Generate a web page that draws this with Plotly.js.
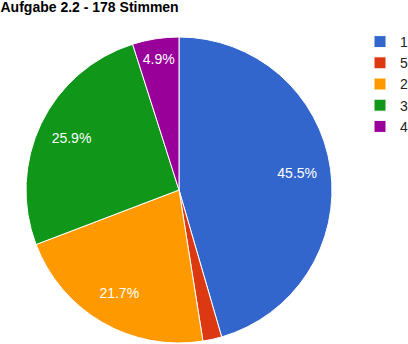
<!DOCTYPE html>
<html>
<head>
<meta charset="utf-8">
<script src="https://cdn.plot.ly/plotly-3.0.1.min.js"></script>
<style>html,body{margin:0;padding:0;background:#fff;}#chart{width:408px;height:344px;}</style>
</head>
<body>
<div id="chart"></div>
<script>
var labels = ['1', '5', '2', '3', '4'];
var values = [45.5, 2.0, 21.7, 25.9, 4.9];
var colors = ['#3366cc', '#dc3912', '#ff9900', '#109618', '#990099'];
var textPositions = ['inside', 'none', 'inside', 'inside', 'inside'];

var W = 408, H = 344;
var pieDomain = {x: [26 / W, 332 / W], y: [1 - 343 / H, 1 - 37 / H]};
var FONT = 'Arial, Liberation Sans, sans-serif';

var slices = {
  type: 'pie',
  labels: labels,
  values: values,
  sort: false,
  direction: 'clockwise',
  rotation: 0,
  marker: {colors: colors, line: {color: '#ffffff', width: 1}},
  textinfo: 'none',
  hoverinfo: 'label+percent',
  domain: pieDomain
};

// transparent ring used only to place the percentage labels further out
var labelRing = {
  type: 'pie',
  labels: labels,
  values: values,
  sort: false,
  direction: 'clockwise',
  rotation: 0,
  hole: 0.56,
  showlegend: false,
  marker: {colors: labels.map(function () { return 'rgba(0,0,0,0)'; }), line: {width: 0}},
  textinfo: 'percent',
  texttemplate: '%{percent:.1%}',
  textposition: textPositions,
  insidetextorientation: 'horizontal',
  textfont: {family: FONT, size: 14, color: '#ffffff'},
  hoverinfo: 'skip',
  domain: pieDomain
};

var layout = {
  width: W,
  height: H,
  margin: {l: 0, r: 0, t: 0, b: 0, autoexpand: false},
  paper_bgcolor: '#ffffff',
  showlegend: true,
  title: {
    text: '<b>Aufgabe 2.2 - 178 Stimmen</b>',
    font: {family: FONT, size: 14, color: '#000000'},
    x: 0.5 / W, xref: 'container', xanchor: 'left',
    y: 1 - 7 / H, yref: 'container', yanchor: 'middle'
  },
  legend: {
    x: 360 / W, xanchor: 'left',
    y: 1 - 26 / H, yanchor: 'top',
    font: {family: FONT, size: 14, color: '#222222'},
    traceorder: 'normal',
    bgcolor: 'rgba(0,0,0,0)'
  }
};

Plotly.newPlot('chart', [slices, labelRing], layout, {displayModeBar: false, staticPlot: true});
</script>
</body>
</html>
